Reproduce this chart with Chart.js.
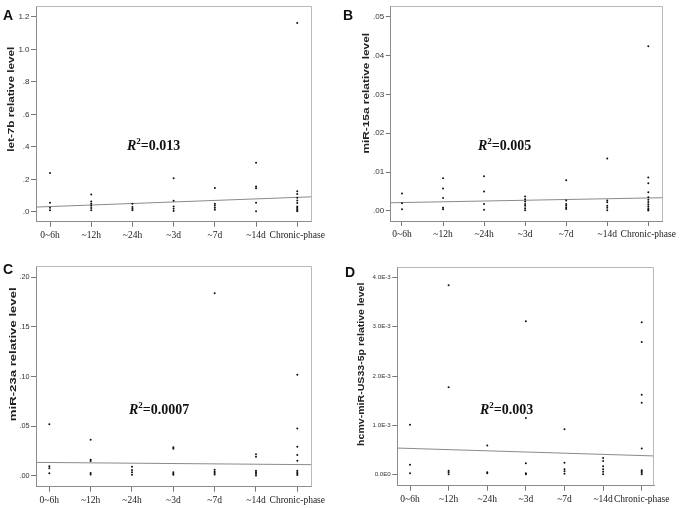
<!DOCTYPE html>
<html>
<head>
<meta charset="utf-8">
<script src="https://cdn.jsdelivr.net/npm/chart.js@4/dist/chart.umd.min.js"></script>
<style>
  html,body{margin:0;padding:0;background:#fff;}
  body{width:685px;height:508px;position:relative;overflow:hidden;}
  canvas{position:absolute;}
  .letter{position:absolute;font-family:"Liberation Sans",Arial,sans-serif;font-weight:bold;font-size:14px;line-height:1;color:#111;}
  .r2{position:absolute;font-family:"Liberation Serif","Times New Roman",serif;font-weight:bold;font-size:14px;line-height:1;color:#111;white-space:nowrap;transform:translateY(-50%);}
  .r2 sup{font-size:9px;vertical-align:6px;line-height:0;}
  .ytitle{position:absolute;font-family:"Liberation Sans",Arial,sans-serif;font-weight:bold;font-size:8.5px;line-height:1;color:#222;white-space:nowrap;}
</style>
</head>
<body>
<canvas id="cA" width="342" height="254" style="left:0;top:0"></canvas>
<canvas id="cB" width="343" height="254" style="left:342px;top:0"></canvas>
<canvas id="cC" width="342" height="254" style="left:0;top:254px"></canvas>
<canvas id="cD" width="343" height="254" style="left:342px;top:254px"></canvas>

<div class="letter" style="left:3px;top:8px">A</div>
<div class="letter" style="left:343px;top:8px">B</div>
<div class="letter" style="left:3px;top:262px">C</div>
<div class="letter" style="left:345px;top:265px">D</div>

<div class="r2" style="left:127px;top:146px"><i>R</i><sup>2</sup>=0.013</div>
<div class="r2" style="left:478px;top:146px"><i>R</i><sup>2</sup>=0.005</div>
<div class="r2" style="left:129px;top:410px"><i>R</i><sup>2</sup>=0.0007</div>
<div class="r2" style="left:480px;top:410px"><i>R</i><sup>2</sup>=0.003</div>

<div class="ytitle" id="tA">let-7b relative level</div>
<div class="ytitle" id="tB">miR-15a relative level</div>
<div class="ytitle" id="tC">miR-23a relative level</div>
<div class="ytitle" id="tD">hcmv-miR-US33-5p relative level</div>

<script>
// ---- data ----
const categories = ['0~6h','~12h','~24h','~3d','~7d','~14d','Chronic-phase'];

const let7b = [
  [0.239,0.057,0.026,0.010],
  [0.107,0.065,0.050,0.038,0.024,0.010],
  [0.050,0.030,0.020,0.010],
  [0.208,0.069,0.034,0.020,0.006],
  [0.148,0.050,0.040,0.026,0.014],
  [0.303,0.156,0.146,0.057,0.004],
  [1.163,0.127,0.111,0.087,0.071,0.055,0.034,0.026,0.018,0.010,0.004]
];
const miR15a = [
  [0.0045,0.0020,0.0004],
  [0.0084,0.0058,0.0033,0.0008,0.0004],
  [0.0089,0.0050,0.0018,0.0003],
  [0.0037,0.0030,0.0024,0.0018,0.0013,0.0007,0.0002],
  [0.0079,0.0027,0.0018,0.0013,0.0008,0.0005],
  [0.0135,0.0027,0.0022,0.0013,0.0008,0.0002],
  [0.0424,0.0086,0.0071,0.0048,0.0035,0.0029,0.0023,0.0017,0.0012,0.0007,0.0003,0.0001]
];
const miR23a = [
  [0.0518,0.0094,0.0074,0.0024],
  [0.0363,0.0161,0.0148,0.0027,0.0013],
  [0.0091,0.0057,0.0034,0.0010],
  [0.0286,0.0272,0.0034,0.0020,0.0010],
  [0.1839,0.0060,0.0040,0.0027,0.0013],
  [0.0215,0.0192,0.0050,0.0034,0.0020,0.0003],
  [0.1018,0.0477,0.0292,0.0208,0.0151,0.0050,0.0034,0.0020,0.0007]
];
const hcmvUS33 = [
  [0.00101,0.00020,0.00003],
  [0.00384,0.00177,0.00008,0.00005,0.00001],
  [0.00059,0.00005,0.00003],
  [0.00311,0.00115,0.00023,0.00003,0.00001],
  [0.00092,0.00024,0.00011,0.00007,0.00002],
  [0.00034,0.00028,0.00017,0.00011,0.00006,0.00001],
  [0.00309,0.00269,0.00162,0.00146,0.00053,0.00009,0.00007,0.00004,0.00001]
];

// regression line values at the left and right edges of each plot
const fitA = [0.030, 0.093];
const fitB = [0.0021, 0.0034];
const fitC = [0.0134, 0.0111];
const fitD = [0.00054, 0.00038];

// y tick values and labels
const ticksA = [0,0.2,0.4,0.6,0.8,1.0,1.2];
const labelsA = ['.0','.2','.4','.6','.8','1.0','1.2'];
const ticksB = [0,0.01,0.02,0.03,0.04,0.05];
const labelsB = ['.00','.01','.02','.03','.04','.05'];
const ticksC = [0,0.05,0.10,0.15,0.20];
const labelsC = ['.00','.05','.10','.15','.20'];
const ticksD = [0,0.001,0.002,0.003,0.004];
const labelsD = ['0.0E0','1.0E-3','2.0E-3','3.0E-3','4.0E-3'];

// ---- drawing ----
const boxPlugin = {
  id:'box',
  afterDraw(chart){
    const {ctx, chartArea:a} = chart;
    ctx.save();
    ctx.strokeStyle = '#b8b8b8';
    ctx.lineWidth = 1;
    ctx.beginPath();
    ctx.moveTo(a.left, Math.round(a.top)+0.5);
    ctx.lineTo(Math.round(a.right)-0.5, Math.round(a.top)+0.5);
    ctx.lineTo(Math.round(a.right)-0.5, a.bottom);
    ctx.stroke();
    ctx.restore();
  }
};

function makePanel(id, values, fit, yt, yl, lay){
  const pts = [];
  values.forEach((arr, i) => arr.forEach(v => pts.push({x:i, y:v})));
  new Chart(document.getElementById(id), {
    data:{
      datasets:[
        {type:'scatter', data:pts, pointRadius:1, pointHoverRadius:1, borderWidth:0,
         backgroundColor:'#111', pointBorderWidth:0},
        {type:'line', data:[{x:lay.xmin,y:fit[0]},{x:lay.xmax,y:fit[1]}],
         borderColor:'#8a8a8a', borderWidth:1, pointRadius:0, fill:false}
      ]
    },
    options:{
      responsive:false, animation:false, devicePixelRatio:1,
      plugins:{legend:{display:false}, tooltip:{enabled:false}},
      layout:{padding:{left:0, top:lay.top, right:lay.right, bottom:0}},
      scales:{
        x:{type:'linear', min:lay.xmin, max:lay.xmax,
           afterBuildTicks:s=>{s.ticks = categories.map((c,i)=>({value:i}));},
           afterFit:s=>{s.height = lay.xh;},
           ticks:{autoSkip:false, maxRotation:0, padding:3, color:'#222',
                  font:{family:'"Liberation Serif","Times New Roman",serif', size:9.5},
                  callback:(v,i)=>categories[i]},
           grid:{drawOnChartArea:false, drawTicks:true, tickLength:5, tickColor:'#777'},
           border:{display:true, color:'#8c8c8c', width:1}},
        y:{type:'linear', min:lay.ymin, max:lay.ymax,
           afterBuildTicks:s=>{s.ticks = yt.map(v=>({value:v}));},
           afterFit:s=>{s.width = lay.yw;},
           ticks:{autoSkip:false, padding:1.5, color:'#333',
                  font:{family:'"Liberation Sans",Arial,sans-serif', size:lay.yfs},
                  callback:(v,i)=>yl[i]},
           grid:{drawOnChartArea:false, drawTicks:true, tickLength:5, tickColor:'#777'},
           border:{display:true, color:'#8c8c8c', width:1}}
      }
    },
    plugins:[boxPlugin]
  });
}

makePanel('cA', let7b, fitA, ticksA, labelsA,
  {xmin:-0.34, xmax:6.35, ymin:-0.06, ymax:1.265, top:3.3, right:30.3, yw:36, xh:32.3, yfs:8});
makePanel('cB', miR15a, fitB, ticksB, labelsB,
  {xmin:-0.275, xmax:6.351, ymin:-0.0026, ymax:0.0527, top:2.7, right:22.3, yw:48.7, xh:33, yfs:8});
makePanel('cC', miR23a, fitC, ticksC, labelsC,
  {xmin:-0.322, xmax:6.348, ymin:-0.0111, ymax:0.2111, top:12.3, right:30.3, yw:36, xh:21.3, yfs:7.3});
makePanel('cD', hcmvUS33, fitD, ticksD, labelsD,
  {xmin:-0.329, xmax:6.318, ymin:-0.000223, ymax:0.004203, top:13.3, right:31, yw:55.3, xh:22.3, yfs:6.2});

// rotated y-axis titles
function placeTitle(id, cx, cy, len){
  const el = document.getElementById(id);
  const w = el.offsetWidth, h = el.offsetHeight;
  const s = len / w;
  el.style.left = (cx - w/2) + 'px';
  el.style.top = (cy - h/2) + 'px';
  el.style.transform = 'rotate(-90deg) scaleX(' + s.toFixed(3) + ')';
}
placeTitle('tA', 11, 99, 105);
placeTitle('tB', 365.5, 93, 120);
placeTitle('tC', 13, 354, 133);
placeTitle('tD', 361.5, 364, 163);
</script>
</body>
</html>
